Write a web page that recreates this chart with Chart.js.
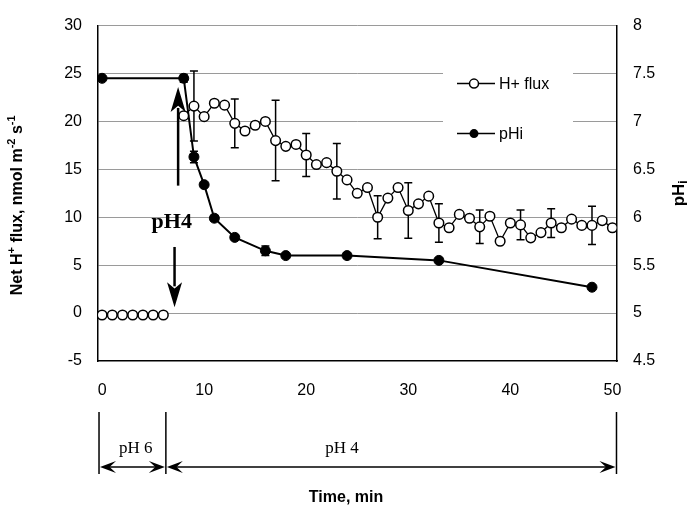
<!DOCTYPE html>
<html><head><meta charset="utf-8">
<script src="https://cdn.jsdelivr.net/npm/chart.js@4.4.1/dist/chart.umd.min.js"></script>
<style>html,body{margin:0;padding:0;background:#fff}</style>
</head><body>
<canvas id="c" width="691" height="510"></canvas>
<script>
// ---- data ----
const fluxTime   = [0,1,2,3,4,5,6,7,8,9,10,11,12,13,14,15,16,17,18,19,20,21,22,23,24,25,26,27,28,29,30,31,32,33,34,35,36,37,38,39,40,41,42,43,44,45,46,47,48,49,50];
const fluxValues = [-0.2,-0.2,-0.2,-0.2,-0.2,-0.2,-0.2,null,20.6,21.6,20.5,21.9,21.7,19.8,19.0,19.6,20.0,18.0,17.4,17.6,16.5,15.5,15.7,14.8,13.9,12.5,13.1,10.0,12.0,13.1,10.7,11.4,12.2,9.4,8.9,10.3,9.9,9.0,10.1,7.5,9.4,9.2,7.85,8.4,9.4,8.9,9.8,9.15,9.15,9.65,8.9];
const fluxErrTime = [9,13,17,20,23,27,30,33,37,41,44,48];
const fluxErr     = [3.65,2.55,4.2,2.25,2.9,2.25,2.9,2.0,1.75,1.55,1.5,2.0];
const phiTime   = [0,8,9,10,11,13,16,18,24,33,48];
const phiValues = [7.45,7.45,6.63,6.34,5.99,5.79,5.65,5.60,5.60,5.55,5.27];
const phiErr    = [0.02,0.04,0.06,0.02,0.03,0.02,0.05,0.02,0.03,0.02,0.02];
const xTicks    = [0,10,20,30,40,50];
const fluxTicks = [-5,0,5,10,15,20,25,30];
const phTicks   = [4.5,5,5.5,6,6.5,7,7.5,8];
const seriesLabels = ['H+ flux','pHi'];
const phases = [
  {label:'pH 6', start:-0.3, end:6.25, labelAt:3.3},
  {label:'pH 4', start:6.25, end:50.4, labelAt:23.5}
];

const SANS = "'Liberation Sans', Arial, Helvetica, sans-serif";
const SERIF = "'Liberation Serif', 'Times New Roman', serif";
Chart.defaults.font.family = SANS;
Chart.defaults.color = '#000';

const fluxData = fluxTime.map((t,i)=>({x:t, y:fluxValues[i]}));
const phiData  = phiTime.map((t,i)=>({x:t, y:phiValues[i]}));

function drawRich(ctx, segs, cx, cy, rot, size){
  const mainF = 'bold '+size+'px '+SANS, subF = 'bold '+Math.round(size*0.68)+'px '+SANS;
  let w=0; segs.forEach(s=>{ctx.font = s.s? subF: mainF; s.w = ctx.measureText(s.t).width; w+=s.w;});
  ctx.save(); ctx.translate(cx,cy); ctx.rotate(rot);
  ctx.textBaseline='middle'; ctx.textAlign='left'; ctx.fillStyle='#000';
  let x=-w/2;
  segs.forEach(s=>{ ctx.font = s.s? subF: mainF; const dy = s.s==='up'? -size*0.38 : (s.s==='dn'? size*0.3 : 0); ctx.fillText(s.t, x, dy); x+=s.w; });
  ctx.restore();
}
function barb(ctx, tipX, y, dir){
  const L=16, H=6;
  ctx.beginPath(); ctx.moveTo(tipX,y); ctx.lineTo(tipX-dir*L, y-H); ctx.lineTo(tipX-dir*L*0.6, y); ctx.lineTo(tipX-dir*L, y+H); ctx.closePath(); ctx.fill();
}
function vArrow(ctx, x, y0, tipY, up){
  const dir = up? -1 : 1, L=25, H=7.5;
  ctx.lineWidth=2.5; ctx.beginPath(); ctx.moveTo(x,y0); ctx.lineTo(x, tipY - dir*(L-4)); ctx.stroke();
  ctx.beginPath(); ctx.moveTo(x,tipY); ctx.lineTo(x-H, tipY-dir*L); ctx.lineTo(x, tipY-dir*L*0.75); ctx.lineTo(x+H, tipY-dir*L); ctx.closePath(); ctx.fill();
}
function errBars(ctx, xs, ys, times, vals, tList, eList){
  tList.forEach((t,i)=>{
    const k = times.indexOf(t); if(k<0) return;
    const v = vals[k], e = eList[i];
    const px = xs.getPixelForValue(t), a = ys.getPixelForValue(v+e), b = ys.getPixelForValue(v-e);
    ctx.beginPath(); ctx.moveTo(px,a); ctx.lineTo(px,b);
    ctx.moveTo(px-4,a); ctx.lineTo(px+4,a); ctx.moveTo(px-4,b); ctx.lineTo(px+4,b); ctx.stroke();
  });
}

const annot = {
  id:'annot',
  beforeDatasetsDraw(chart){
    const ctx=chart.ctx, xs=chart.scales.x, ys=chart.scales.y, y2=chart.scales.y2, ca=chart.chartArea;
    ctx.save();
    ctx.fillStyle='#fff'; ctx.fillRect(ca.left+345, ca.top+38, 130, 82);
    ctx.strokeStyle='#000'; ctx.lineWidth=1.5;
    errBars(ctx, xs, ys, fluxTime, fluxValues, fluxErrTime, fluxErr);
    errBars(ctx, xs, y2, phiTime, phiValues, phiTime, phiErr);
    ctx.restore();
  },
  afterDraw(chart){
    const ctx=chart.ctx, xs=chart.scales.x, ys=chart.scales.y, ca=chart.chartArea;
    ctx.save(); ctx.fillStyle='#000'; ctx.strokeStyle='#000';
    // legend
    const lx = ca.left+359, rows=[ca.top+58, ca.top+108];
    rows.forEach((ry,i)=>{
      ctx.lineWidth=1.5; ctx.beginPath(); ctx.moveTo(lx,ry); ctx.lineTo(lx+38,ry); ctx.stroke();
      ctx.beginPath(); ctx.arc(lx+17,ry,4.5,0,Math.PI*2);
      if(i===0){ctx.fillStyle='#fff'; ctx.fill(); ctx.stroke(); ctx.fillStyle='#000';} else {ctx.fill();}
      ctx.font='16px '+SANS; ctx.textBaseline='middle'; ctx.textAlign='left';
      ctx.fillText(seriesLabels[i], lx+42, ry+0.5);
    });
    // pH4 arrows and text
    vArrow(ctx, xs.getPixelForValue(7.45), ys.getPixelForValue(13.3), ys.getPixelForValue(23.6), true);
    vArrow(ctx, xs.getPixelForValue(7.1), ys.getPixelForValue(6.9), ys.getPixelForValue(0.6), false);
    ctx.font='bold 22px '+SERIF; ctx.textAlign='right'; ctx.textBaseline='alphabetic';
    ctx.fillText('pH4', xs.getPixelForValue(8.8), ys.getPixelForValue(8.9));
    // phase annotation below axis
    const top=ca.bottom+51, bot=ca.bottom+113, ay=ca.bottom+106;
    ctx.lineWidth=1.5;
    const edges=[phases[0].start].concat(phases.map(p=>p.end));
    edges.forEach(v=>{const px=xs.getPixelForValue(v); ctx.beginPath(); ctx.moveTo(px,top); ctx.lineTo(px,bot); ctx.stroke();});
    phases.forEach(p=>{
      const a=xs.getPixelForValue(p.start), b=xs.getPixelForValue(p.end);
      ctx.lineWidth=1.5; ctx.beginPath(); ctx.moveTo(a+4,ay); ctx.lineTo(b-4,ay); ctx.stroke();
      barb(ctx,a+1,ay,-1); barb(ctx,b-1,ay,1);
      ctx.font='17px '+SERIF; ctx.textAlign='center'; ctx.textBaseline='alphabetic';
      ctx.fillText(p.label, xs.getPixelForValue(p.labelAt), ca.bottom+92);
    });
    // axis titles
    ctx.font='bold 16px '+SANS; ctx.textAlign='center'; ctx.textBaseline='alphabetic';
    ctx.fillText('Time, min', xs.getPixelForValue(23.9), ca.bottom+141);
    drawRich(ctx,[{t:'Net H'},{t:'+',s:'up'},{t:' flux, nmol m'},{t:'-2',s:'up'},{t:' s'},{t:'-1',s:'up'}], 18, (ca.top+ca.bottom)/2+12, -Math.PI/2, 16);
    drawRich(ctx,[{t:'pH'},{t:'i',s:'dn'}], 679, (ca.top+ca.bottom)/2+0, -Math.PI/2, 17);
    ctx.restore();
  }
};

new Chart(document.getElementById('c'), {
  type:'scatter',
  data:{datasets:[
    {label:seriesLabels[0], data:fluxData, yAxisID:'y', showLine:true, spanGaps:false, order:0,
     borderColor:'#000', borderWidth:1.3, pointRadius:4.8, pointBackgroundColor:'#fff', pointBorderColor:'#000', pointBorderWidth:1.5},
    {label:seriesLabels[1], data:phiData, yAxisID:'y2', showLine:true, order:1,
     borderColor:'#000', borderWidth:2, pointRadius:5, pointBackgroundColor:'#000', pointBorderColor:'#000', pointBorderWidth:1}
  ]},
  options:{
    responsive:false, animation:false, devicePixelRatio:1,
    layout:{padding:{top:14,left:0,right:0,bottom:0}},
    plugins:{legend:{display:false}, tooltip:{enabled:false}},
    scales:{
      x:{type:'linear', min:-0.4, max:50.45,
         afterBuildTicks:s=>{s.ticks=xTicks.map(v=>({value:v}));},
         afterFit:s=>{s.height=149;},
         grid:{display:false, drawTicks:false},
         border:{display:true,color:'#000',width:1.5},
         ticks:{font:{size:16,family:SANS}, color:'#000', padding:20, maxRotation:0, autoSkip:false, callback:v=>String(v)}},
      y:{type:'linear', position:'left', min:-5, max:30,
         afterBuildTicks:s=>{s.ticks=fluxTicks.map(v=>({value:v}));},
         afterFit:s=>{s.width=98;},
         grid:{color:c=>(c.tick && c.tick.value===-5)?'rgba(0,0,0,0)':'#9a9a9a', lineWidth:1, drawTicks:false},
         border:{display:true,color:'#000',width:1.5},
         ticks:{font:{size:16,family:SANS}, color:'#000', padding:16, autoSkip:false, callback:v=>String(v)}},
      y2:{type:'linear', position:'right', min:4.5, max:8,
         afterBuildTicks:s=>{s.ticks=phTicks.map(v=>({value:v}));},
         afterFit:s=>{s.width=74;},
         grid:{drawOnChartArea:false, drawTicks:false},
         border:{display:true,color:'#000',width:1.5},
         ticks:{font:{size:16,family:SANS}, color:'#000', padding:16, autoSkip:false, callback:v=>String(v)}}
    }
  },
  plugins:[annot]
});
</script>
</body></html>
